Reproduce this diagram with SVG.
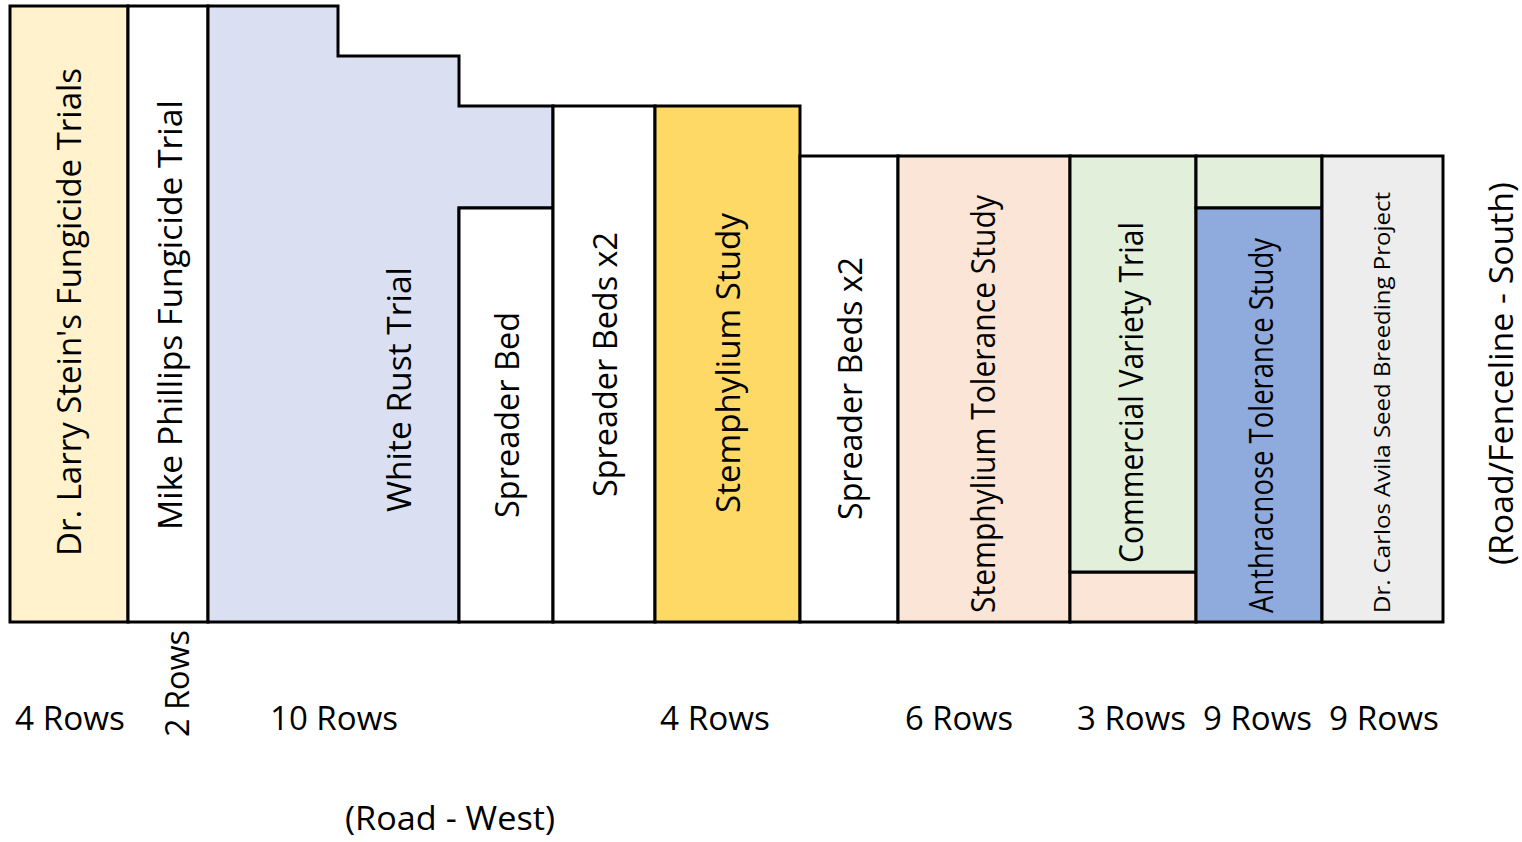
<svg xmlns="http://www.w3.org/2000/svg" width="1522" height="842" viewBox="0 0 1522 842">
<style>
.b{stroke:#000;stroke-width:3;stroke-linejoin:miter}
.t{font-family:"Open Sans","Noto Sans","Liberation Sans",sans-serif;font-size:32px;fill:#000;text-anchor:middle}
.s{font-size:22px}
</style>
<rect width="1522" height="842" fill="#fff"/>
<g id="larry-stein">
<rect class="b" x="10" y="6" width="118" height="616" fill="#FFF2CC"/>
<text class="t" transform="translate(81,312) rotate(-90)" textLength="488" lengthAdjust="spacingAndGlyphs">Dr. Larry Stein's Fungicide Trials</text>
</g>
<g id="mike-phillips">
<rect class="b" x="128" y="6" width="80" height="616" fill="#fff"/>
<text class="t" transform="translate(182,315) rotate(-90)" textLength="430" lengthAdjust="spacingAndGlyphs">Mike Phillips Fungicide Trial</text>
</g>
<g id="white-rust">
<polygon class="b" points="208,6 338,6 338,56 459,56 459,106 553,106 553,208 459,208 459,622 208,622" fill="#DAE0F2"/>
<text class="t" transform="translate(411,389.5) rotate(-90)" textLength="245" lengthAdjust="spacingAndGlyphs">White Rust Trial</text>
</g>
<g id="spreader-bed">
<rect class="b" x="459" y="208" width="94" height="414" fill="#fff"/>
<text class="t" transform="translate(519,415) rotate(-90)" textLength="206" lengthAdjust="spacingAndGlyphs">Spreader Bed</text>
</g>
<g id="spreader-beds-1">
<rect class="b" x="553" y="106" width="102" height="516" fill="#fff"/>
<text class="t" transform="translate(617,364.5) rotate(-90)" textLength="265" lengthAdjust="spacingAndGlyphs">Spreader Beds x2</text>
</g>
<g id="stemphylium-study">
<rect class="b" x="655" y="106" width="145" height="516" fill="#FFD966"/>
<text class="t" transform="translate(740,363) rotate(-90)" textLength="300" lengthAdjust="spacingAndGlyphs">Stemphylium Study</text>
</g>
<g id="spreader-beds-2">
<rect class="b" x="800" y="156" width="98" height="466" fill="#fff"/>
<text class="t" transform="translate(862,388.5) rotate(-90)" textLength="263" lengthAdjust="spacingAndGlyphs">Spreader Beds x2</text>
</g>
<g id="stemphylium-tolerance">
<rect class="b" x="898" y="156" width="172" height="466" fill="#FBE5D6"/>
<rect class="b" x="1070" y="572" width="126" height="50" fill="#FBE5D6"/>
<text class="t" transform="translate(995,404) rotate(-90)" textLength="418" lengthAdjust="spacingAndGlyphs">Stemphylium Tolerance Study</text>
</g>
<g id="commercial-variety">
<rect class="b" x="1070" y="156" width="126" height="416" fill="#E2EFDA"/>
<rect class="b" x="1196" y="156" width="126" height="52" fill="#E2EFDA"/>
<text class="t" transform="translate(1143,392.5) rotate(-90)" textLength="341" lengthAdjust="spacingAndGlyphs">Commercial Variety Trial</text>
</g>
<g id="anthracnose-tolerance">
<rect class="b" x="1196" y="208" width="126" height="414" fill="#8FAADC"/>
<text class="t" transform="translate(1273,425.5) rotate(-90)" textLength="375" lengthAdjust="spacingAndGlyphs">Anthracnose Tolerance Study</text>
</g>
<g id="carlos-avila">
<rect class="b" x="1322" y="156" width="121" height="466" fill="#EDEDED"/>
<text class="t s" transform="translate(1390,402.5) rotate(-90)" textLength="421" lengthAdjust="spacingAndGlyphs">Dr. Carlos Avila Seed Breeding Project</text>
</g>
<g id="labels">
<text class="t" transform="translate(1513,373.5) rotate(-90)" textLength="383" lengthAdjust="spacingAndGlyphs">(Road/Fenceline - South)</text>
<text class="t" x="70" y="730" textLength="110" lengthAdjust="spacingAndGlyphs">4 Rows</text>
<text class="t" transform="translate(189,683.5) rotate(-90)" textLength="107" lengthAdjust="spacingAndGlyphs">2 Rows</text>
<text class="t" x="334" y="730" textLength="128" lengthAdjust="spacingAndGlyphs">10 Rows</text>
<text class="t" x="715" y="730" textLength="110" lengthAdjust="spacingAndGlyphs">4 Rows</text>
<text class="t" x="959" y="730" textLength="108" lengthAdjust="spacingAndGlyphs">6 Rows</text>
<text class="t" x="1131.5" y="730" textLength="109" lengthAdjust="spacingAndGlyphs">3 Rows</text>
<text class="t" x="1257.5" y="730" textLength="109" lengthAdjust="spacingAndGlyphs">9 Rows</text>
<text class="t" x="1384" y="730" textLength="110" lengthAdjust="spacingAndGlyphs">9 Rows</text>
<text class="t" x="450" y="830" textLength="210" lengthAdjust="spacingAndGlyphs">(Road - West)</text>
</g>
</svg>
